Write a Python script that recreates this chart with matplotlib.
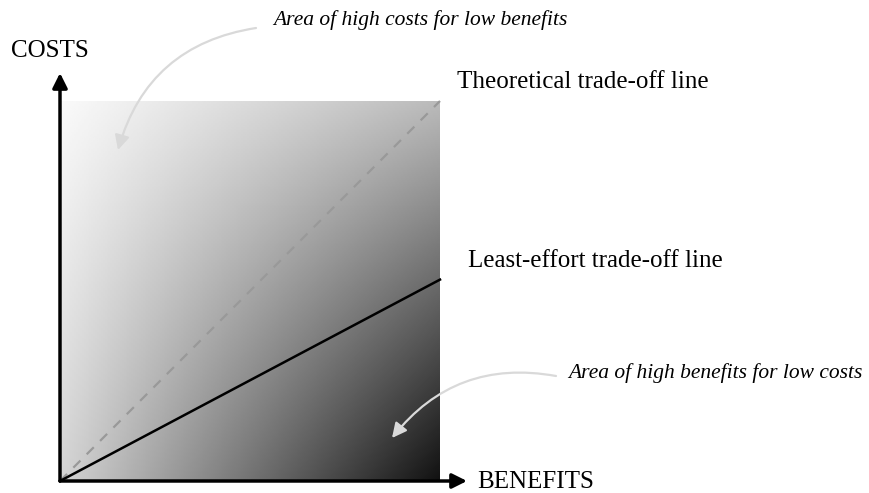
import numpy as np
import matplotlib
matplotlib.use('Agg')
import matplotlib.pyplot as plt

plt.rcParams['font.family'] = ['Liberation Serif', 'DejaVu Serif']

# data (unit square: benefits on x, costs on y)
benefits = [0.0, 1.0]
theoretical_costs = [0.0, 1.0]
least_effort_costs = [0.0, 0.53]

# corner grey levels of the shaded area: [[top-left, top-right], [bottom-left, bottom-right]]
corner_grey = np.array([[0.98, 0.73], [0.83, 0.07]])

labels = {
    'x': 'BENEFITS',
    'y': 'COSTS',
    'theo': 'Theoretical trade-off line',
    'least': 'Least-effort trade-off line',
    'high_cost': 'Area of high costs for low benefits',
    'high_ben': 'Area of high benefits for low costs',
}

# figure size / pixel mapping
wdx, wdy, dpi = 870, 493, 100
ox, oy, side = 60, 481, 380  # origin pixel and square side in px


def px(x, y):
    # pixel coords (from top-left) -> data coords
    return (x - ox) / side, (oy - y) / side


fig = plt.figure(figsize=[wdx / dpi, wdy / dpi], dpi=dpi)
ax = fig.add_axes([0, 0, 1, 1])
ax.set_xlim(px(0, 0)[0], px(wdx, 0)[0])
ax.set_ylim(px(0, wdy)[1], px(0, 0)[1])
ax.axis('off')

# shaded square, bilinear blend of the corners
n = 200
u = np.linspace(0, 1, n)
top = corner_grey[0, 0] * (1 - u) + corner_grey[0, 1] * u
bot = corner_grey[1, 0] * (1 - u) + corner_grey[1, 1] * u
v = np.linspace(0, 1, n)[:, None]
img = top[None, :] * (1 - v) + bot[None, :] * v
ax.imshow(img, cmap='gray', vmin=0, vmax=1, extent=[0, 1, 0, 1],
          origin='upper', interpolation='bilinear', aspect='auto', zorder=1)

# trade-off lines
ax.plot(benefits, theoretical_costs, color='#999999', lw=1.6,
        linestyle=(0, (4.5, 4)), zorder=3)
ax.plot(benefits, least_effort_costs, color='black', lw=1.8, zorder=3)

# axes with arrows
ax.annotate('', xy=px(ox, 73), xytext=(0, 0),
            arrowprops=dict(arrowstyle='-|>', color='black', lw=2.5,
                            mutation_scale=22, shrinkA=0, shrinkB=0), zorder=4)
ax.annotate('', xy=px(467, oy), xytext=(0, 0),
            arrowprops=dict(arrowstyle='-|>', color='black', lw=2.5,
                            mutation_scale=22, shrinkA=0, shrinkB=0), zorder=4)

ax.text(*px(11, 51), labels['y'], fontsize=18, va='center', ha='left')
ax.text(*px(477, 482), labels['x'], fontsize=18, va='center', ha='left')
ax.text(*px(457, 82), labels['theo'], fontsize=18, va='center', ha='left')
ax.text(*px(468, 261), labels['least'], fontsize=18, va='center', ha='left')

# callouts
ax.text(*px(273, 20), labels['high_cost'], fontsize=15.5, style='italic',
        va='center', ha='left')
ax.text(*px(568, 373), labels['high_ben'], fontsize=15.5, style='italic',
        va='center', ha='left')
ax.annotate('', xy=px(118, 150), xytext=px(256, 28),
            arrowprops=dict(arrowstyle='-|>', color='#d9d9d9', lw=1.6,
                            mutation_scale=22, shrinkA=0, shrinkB=0,
                            connectionstyle='arc3,rad=0.32'), zorder=5)
ax.annotate('', xy=px(392, 438), xytext=px(556, 376),
            arrowprops=dict(arrowstyle='-|>', color='#d9d9d9', lw=1.6,
                            mutation_scale=22, shrinkA=0, shrinkB=0,
                            connectionstyle='arc3,rad=0.3'), zorder=5)

plt.savefig('out.png', dpi=dpi)
